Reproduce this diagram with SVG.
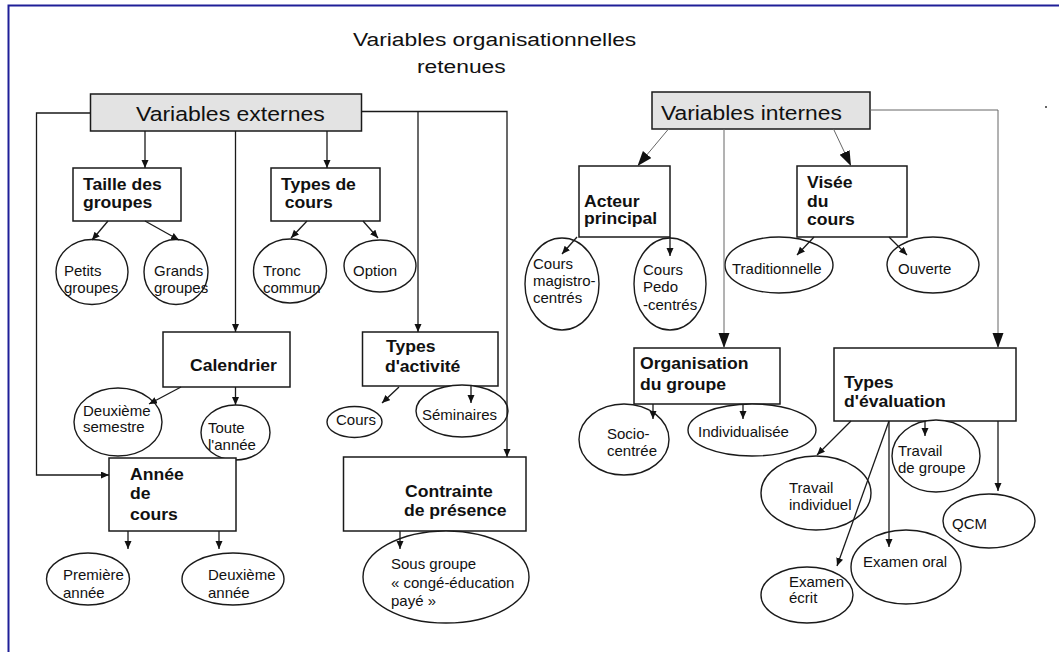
<svg xmlns="http://www.w3.org/2000/svg" width="1059" height="652" viewBox="0 0 1059 652">
<style>
text{font-family:"Liberation Sans",Arial,sans-serif;fill:#111}
.t{font-size:19px}
.h{font-size:19.5px}
.b{font-size:16px;font-weight:bold}
.e{font-size:15px}
.box{fill:#fff;stroke:#1a1a1a;stroke-width:1.5}
.gbox{fill:#e3e3e3;stroke:#1a1a1a;stroke-width:1.5}
.ell{fill:#fff;stroke:#1a1a1a;stroke-width:1.4}
.c{fill:none;stroke:#1a1a1a;stroke-width:1.3}
.cg{fill:none;stroke:#666;stroke-width:1}
</style>
<defs>
<marker id="a" markerUnits="userSpaceOnUse" markerWidth="9" markerHeight="8" refX="8" refY="3.5" orient="auto"><path d="M0,0 L8,3.5 L0,7 z" fill="#111"/></marker>
<marker id="A" markerUnits="userSpaceOnUse" markerWidth="16" markerHeight="12" refX="15" refY="5.5" orient="auto"><path d="M0,0 L15,5.5 L0,11 z" fill="#111"/></marker>
</defs>
<rect width="1059" height="652" fill="#fff"/>
<path d="M8.5,652 V5.5 H1059" fill="none" stroke="#1f1f98" stroke-width="2"/>
<circle cx="1046" cy="107" r="1" fill="#333"/>

<g id="title">
<text class="t" transform="translate(353,46) scale(1.2,1)">Variables organisationnelles</text>
<text class="t" transform="translate(417,73) scale(1.2,1)">retenues</text>
</g>

<g id="variables-externes">
<rect class="gbox" x="90.5" y="94" width="271" height="37"/>
<text class="h" transform="translate(136,121) scale(1.18,1)">Variables externes</text>
</g>
<g id="taille-des-groupes">
<rect class="box" x="73" y="168" width="108" height="53"/>
<text class="b" transform="translate(83,190) scale(1.1,1)"><tspan x="0" y="0">Taille des</tspan><tspan x="0" y="18">groupes</tspan></text>
</g>
<g id="types-de-cours">
<rect class="box" x="271" y="168" width="109" height="53"/>
<text class="b" transform="translate(281,190) scale(1.1,1)"><tspan x="0" y="0">Types de</tspan><tspan x="3.5" y="18">cours</tspan></text>
</g>
<g id="petits-groupes">
<ellipse class="ell" cx="92" cy="272" rx="36" ry="32.5"/>
<text class="e"><tspan x="64" y="276">Petits</tspan><tspan x="64" y="293">groupes</tspan></text>
</g>
<g id="grands-groupes">
<ellipse class="ell" cx="176" cy="272" rx="32" ry="32.5"/>
<text class="e"><tspan x="154" y="276">Grands</tspan><tspan x="154" y="293">groupes</tspan></text>
</g>
<g id="tronc-commun">
<ellipse class="ell" cx="290" cy="271" rx="36.5" ry="32"/>
<text class="e"><tspan x="263" y="276">Tronc</tspan><tspan x="263" y="293">commun</tspan></text>
</g>
<g id="option">
<ellipse class="ell" cx="380" cy="266" rx="36" ry="26"/>
<text class="e" x="353" y="276">Option</text>
</g>
<g id="calendrier">
<rect class="box" x="163" y="332" width="127" height="55"/>
<text class="b" transform="translate(190,371) scale(1.1,1)">Calendrier</text>
</g>
<g id="types-activite">
<rect class="box" x="362.5" y="332" width="135.5" height="54"/>
<text class="b" transform="translate(386,352) scale(1.1,1)"><tspan x="0" y="0">Types</tspan><tspan x="-1" y="20">d'activité</tspan></text>
</g>
<g id="deuxieme-semestre">
<ellipse class="ell" cx="118" cy="422" rx="44" ry="34"/>
<text class="e"><tspan x="83" y="416">Deuxième</tspan><tspan x="83" y="432">semestre</tspan></text>
</g>
<g id="toute-annee">
<ellipse class="ell" cx="235.5" cy="432.5" rx="34.5" ry="27.5"/>
<text class="e"><tspan x="208" y="433">Toute</tspan><tspan x="208" y="450">l'année</tspan></text>
</g>
<g id="cours">
<ellipse class="ell" cx="354.5" cy="422" rx="27.5" ry="15.5"/>
<text class="e" x="336" y="425">Cours</text>
</g>
<g id="seminaires">
<ellipse class="ell" cx="462" cy="411" rx="46" ry="26"/>
<text class="e" x="422" y="420">Séminaires</text>
</g>
<g id="annee-de-cours">
<rect class="box" x="109" y="458" width="127" height="73"/>
<text class="b" transform="translate(130,480) scale(1.1,1)"><tspan x="0" y="0">Année</tspan><tspan x="0" y="19">de</tspan><tspan x="0" y="40">cours</tspan></text>
</g>
<g id="contrainte-de-presence">
<rect class="box" x="343.5" y="457" width="182.5" height="74"/>
<text class="b" transform="translate(405,497) scale(1.1,1)"><tspan x="0" y="0">Contrainte</tspan><tspan x="-1" y="19">de présence</tspan></text>
</g>
<g id="premiere-annee">
<ellipse class="ell" cx="88" cy="579" rx="41.5" ry="26"/>
<text class="e"><tspan x="63" y="580">Première</tspan><tspan x="63" y="598">année</tspan></text>
</g>
<g id="deuxieme-annee">
<ellipse class="ell" cx="233" cy="579" rx="51" ry="26"/>
<text class="e"><tspan x="208" y="580">Deuxième</tspan><tspan x="208" y="598">année</tspan></text>
</g>
<g id="sous-groupe">
<ellipse class="ell" cx="446" cy="577" rx="83" ry="46"/>
<text class="e"><tspan x="391" y="569">Sous groupe</tspan><tspan x="391" y="588">« congé-éducation</tspan><tspan x="391" y="606">payé »</tspan></text>
</g>

<g id="variables-internes">
<rect class="gbox" x="652" y="92" width="218" height="37"/>
<text class="h" transform="translate(661,120) scale(1.17,1)">Variables internes</text>
</g>
<g id="acteur-principal">
<rect class="box" x="579" y="166" width="91" height="71"/>
<text class="b" transform="translate(584,207) scale(1.1,1)"><tspan x="0" y="0">Acteur</tspan><tspan x="0" y="17">principal</tspan></text>
</g>
<g id="visee-du-cours">
<rect class="box" x="797" y="166" width="110" height="71"/>
<text class="b" transform="translate(807,188) scale(1.1,1)"><tspan x="0" y="0">Visée</tspan><tspan x="0" y="19">du</tspan><tspan x="0" y="37">cours</tspan></text>
</g>
<g id="cours-magistro-centres">
<ellipse class="ell" cx="562" cy="284" rx="37" ry="46"/>
<text class="e"><tspan x="533" y="269">Cours</tspan><tspan x="533" y="286">magistro-</tspan><tspan x="533" y="303">centrés</tspan></text>
</g>
<g id="cours-pedo-centres">
<ellipse class="ell" cx="670" cy="284" rx="36" ry="46"/>
<text class="e"><tspan x="643" y="275">Cours</tspan><tspan x="643" y="292">Pedo</tspan><tspan x="643" y="310">-centrés</tspan></text>
</g>
<g id="traditionnelle">
<ellipse class="ell" cx="779" cy="265" rx="54" ry="28"/>
<text class="e" x="732" y="274">Traditionnelle</text>
</g>
<g id="ouverte">
<ellipse class="ell" cx="933" cy="265" rx="46" ry="28"/>
<text class="e" x="898" y="274">Ouverte</text>
</g>
<g id="organisation-du-groupe">
<rect class="box" x="634" y="348" width="146" height="56"/>
<text class="b" transform="translate(640,369) scale(1.1,1)"><tspan x="0" y="0">Organisation</tspan><tspan x="0" y="21">du groupe</tspan></text>
</g>
<g id="types-evaluation">
<rect class="box" x="834" y="348" width="182" height="73"/>
<text class="b" transform="translate(844,388) scale(1.1,1)"><tspan x="0" y="0">Types</tspan><tspan x="0" y="19">d'évaluation</tspan></text>
</g>
<g id="socio-centree">
<ellipse class="ell" cx="624" cy="439.5" rx="45" ry="35.5"/>
<text class="e"><tspan x="607" y="439">Socio-</tspan><tspan x="607" y="456">centrée</tspan></text>
</g>
<g id="individualisee">
<ellipse class="ell" cx="752" cy="430" rx="64" ry="26"/>
<text class="e" x="698" y="437">Individualisée</text>
</g>
<g id="travail-individuel">
<ellipse class="ell" cx="816" cy="493" rx="55" ry="37"/>
<text class="e"><tspan x="789" y="493">Travail</tspan><tspan x="789" y="510">individuel</tspan></text>
</g>
<g id="travail-de-groupe">
<ellipse class="ell" cx="936" cy="456" rx="44" ry="36"/>
<text class="e"><tspan x="898" y="456">Travail</tspan><tspan x="898" y="473">de groupe</tspan></text>
</g>
<g id="qcm">
<ellipse class="ell" cx="989" cy="521" rx="46" ry="27"/>
<text class="e" x="952" y="529">QCM</text>
</g>
<g id="examen-oral">
<ellipse class="ell" cx="906" cy="567" rx="55" ry="37"/>
<text class="e" x="863" y="567">Examen oral</text>
</g>
<g id="examen-ecrit">
<ellipse class="ell" cx="807" cy="595" rx="46" ry="28"/>
<text class="e"><tspan x="789" y="587">Examen</tspan><tspan x="789" y="603">écrit</tspan></text>
</g>

<g id="connectors">
<path class="c" d="M90,113 H36.5 V475 H109" marker-end="url(#a)"/>
<path class="c" d="M361.5,111.5 H507 V457" marker-end="url(#a)"/>
<path class="c" d="M418,111.5 V332" marker-end="url(#a)"/>
<path class="c" d="M145,131 V168" marker-end="url(#a)"/>
<path class="c" d="M235.5,131 V332" marker-end="url(#a)"/>
<path class="c" d="M327,131 V168" marker-end="url(#a)"/>
<path class="c" d="M108,221 L92,240" marker-end="url(#a)"/>
<path class="c" d="M145,221 L179,240" marker-end="url(#a)"/>
<path class="c" d="M307,221 L291,238" marker-end="url(#a)"/>
<path class="c" d="M363,221 L378,238" marker-end="url(#a)"/>
<path class="c" d="M181,387 L149,404" marker-end="url(#a)"/>
<path class="c" d="M235.5,387 V405" marker-end="url(#a)"/>
<path class="c" d="M399,387 L382,403" marker-end="url(#a)"/>
<path class="c" d="M471,386 V403" marker-end="url(#a)"/>
<path class="c" d="M128,531 V549" marker-end="url(#a)"/>
<path class="c" d="M219,531 V549" marker-end="url(#a)"/>
<path class="c" d="M400,531 V549" marker-end="url(#a)"/>

<path class="cg" d="M870,110 H998 V348" marker-end="url(#A)"/>
<path class="cg" d="M724,129 V348" marker-end="url(#A)"/>
<path class="cg" d="M668.5,129 L637.5,166" marker-end="url(#A)"/>
<path class="cg" d="M833.5,129 L851,166" marker-end="url(#A)"/>
<path class="c" d="M577,237 L562,254" marker-end="url(#a)"/>
<path class="c" d="M670,237 V256" marker-end="url(#a)"/>
<path class="c" d="M814,237 L797,255" marker-end="url(#a)"/>
<path class="c" d="M889,237 L907,255" marker-end="url(#a)"/>
<path class="c" d="M653,404 V419" marker-end="url(#a)"/>
<path class="c" d="M743,404 V419" marker-end="url(#a)"/>
<path class="c" d="M851,421 L817,455" marker-end="url(#a)"/>
<path class="c" d="M889,421 L837,566" marker-end="url(#a)"/>
<path class="c" d="M889,421 V547" marker-end="url(#a)"/>
<path class="c" d="M925,421 V436" marker-end="url(#a)"/>
<path class="c" d="M998,421 V491" marker-end="url(#a)"/>
</g>
</svg>
